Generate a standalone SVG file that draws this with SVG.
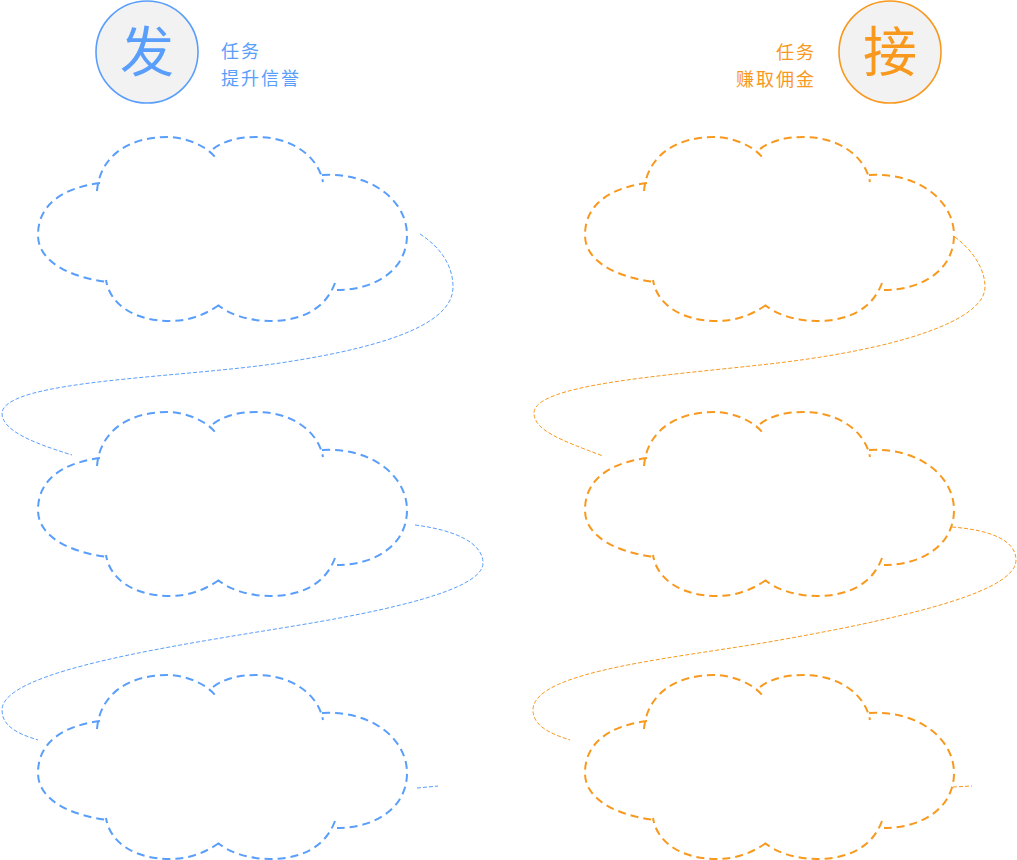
<svg xmlns="http://www.w3.org/2000/svg" xmlns:xlink="http://www.w3.org/1999/xlink" width="1017" height="860" viewBox="0 0 1017 860">
<style>
.blue{stroke:#5A9EFB;}
.orange{stroke:#F8991E;}
.cloud{fill:none;stroke-width:2;stroke-dasharray:8 5;}
.conn{fill:none;stroke-width:1;stroke-dasharray:4 2;}
.badge{fill:#F2F2F2;stroke-width:1.6;}
.big{font-family:"Noto Sans CJK SC",sans-serif;font-size:54px;}
.small{font-family:"Noto Sans CJK SC",sans-serif;font-size:18px;letter-spacing:2px;}
.tb{fill:#5A9EFB;}
.to{fill:#F8991E;}
</style>
<defs>
<path id="cloud" d="M100,183 C62,188 38,205 38,235 C38,262 70,277 107,282 M97,191 C100,155 130,137 167,137 C185,137 205,145 215,157 M213,149 C225,140 240,137 257,137 C290,137 318,155 323,182 M322,175 C370,172 407,200 407,235 C407,270 375,290 337,290 M335,283 C325,310 300,321 270,321 C250,321 230,315 218,305 M219,305 C205,315 188,321 170,321 C135,321 110,305 106,280"/>
</defs>
<g id="header-fa">
<circle class="badge blue" cx="147" cy="52" r="51"/>
<text class="big tb" x="147" y="72" text-anchor="middle">发</text>
<text class="small tb" x="221" y="57.5">任务</text>
<text class="small tb" x="221" y="84.5">提升信誉</text>
</g>
<g id="header-jie">
<circle class="badge orange" cx="890" cy="52" r="51"/>
<text class="big to" x="890" y="72" text-anchor="middle">接</text>
<text class="small to" x="816" y="59" text-anchor="end">任务</text>
<text class="small to" x="816" y="86" text-anchor="end">赚取佣金</text>
</g>
<g id="cloud-l1"><use xlink:href="#cloud" href="#cloud" class="cloud blue"/></g>
<g id="cloud-l2"><use xlink:href="#cloud" href="#cloud" class="cloud blue" transform="translate(0,275)"/></g>
<g id="cloud-l3"><use xlink:href="#cloud" href="#cloud" class="cloud blue" transform="translate(0,538)"/></g>
<g id="cloud-r1"><use xlink:href="#cloud" href="#cloud" class="cloud orange" transform="translate(547,0)"/></g>
<g id="cloud-r2"><use xlink:href="#cloud" href="#cloud" class="cloud orange" transform="translate(547,275)"/></g>
<g id="cloud-r3"><use xlink:href="#cloud" href="#cloud" class="cloud orange" transform="translate(547,538)"/></g>
<g id="connectors">
<path class="conn blue" d="M420,234 C440,247 453,265 453,287 C453,320 400,345 280,363 C180,378 5,380 2,413 C2,430 30,442 72,455"/>
<path class="conn blue" d="M415,525 C455,530 483,543 483,563 C483,585 420,605 300,625 C180,645 2,670 2,710 C2,725 15,733 38,740"/>
<path class="conn blue" d="M417,788 L438,786"/>
<path class="conn orange" d="M955,237 C972,250 985,268 985,287 C985,320 900,350 760,365 C660,376 534,385 534,413 C534,430 560,440 603,456"/>
<path class="conn orange" d="M952,527 C990,530 1016,540 1016,560 C1016,590 920,615 780,640 C680,658 533,670 533,710 C533,725 548,733 570,740"/>
<path class="conn orange" d="M953,787 L972,786"/>
</g>
</svg>
